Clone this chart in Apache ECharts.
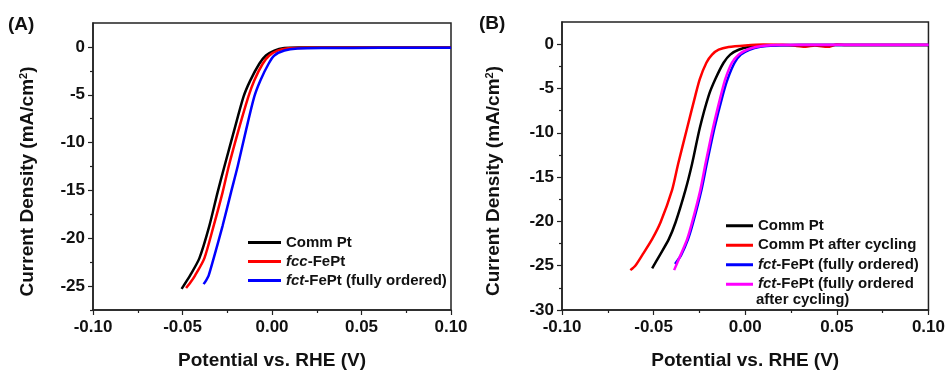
<!DOCTYPE html>
<html>
<head>
<meta charset="utf-8">
<script src="https://cdn.jsdelivr.net/npm/echarts@6/dist/echarts.min.js"></script>
<style>
  html, body { margin: 0; padding: 0; background: #fff; }
  #chart { width: 948px; height: 375px; }
</style>
</head>
<body>
<div id="chart"></div>
<script>
// Panel (A): LSV curves, [potential V, current density mA/cm2]
const commPtA = [[-0.0505,-25.3],[-0.0485,-24.7],[-0.0458,-23.9],[-0.0406,-22.1],[-0.035,-18.7],[-0.0304,-15.2],[-0.0266,-12.5],[-0.0211,-8.7],[-0.0159,-5.2],[-0.0121,-3.5],[-0.0071,-1.76],[-0.0034,-0.9],[0.0013,-0.38],[0.0069,-0.12],[0.015,-0.06],[0.04,-0.05],[0.07,-0.05],[0.1,-0.05]];
const fccA = [[-0.048,-25.2],[-0.0455,-24.6],[-0.043,-23.9],[-0.0378,-22.1],[-0.0326,-18.7],[-0.0276,-15.2],[-0.0242,-12.5],[-0.0187,-8.7],[-0.0132,-5.2],[-0.0099,-3.5],[-0.0052,-1.76],[-0.0015,-0.9],[0.0031,-0.38],[0.009,-0.14],[0.02,-0.08],[0.06,-0.08],[0.1,-0.08]];
const fctA = [[-0.0382,-24.8],[-0.0368,-24.4],[-0.0354,-23.9],[-0.0326,-22.1],[-0.0276,-18.7],[-0.0229,-15.2],[-0.0192,-12.5],[-0.0145,-8.7],[-0.0099,-5.2],[-0.0065,-3.5],[-0.0019,-1.76],[0.0013,-0.9],[0.0069,-0.38],[0.0143,-0.17],[0.03,-0.12],[0.06,-0.1],[0.1,-0.1]];

// Panel (B)
const commPtB = [[-0.0508,-25.3],[-0.0466,-23.8],[-0.0417,-22.0],[-0.038,-20.1],[-0.0326,-16.45],[-0.029,-13.5],[-0.0248,-9.46],[-0.0199,-5.78],[-0.0163,-3.94],[-0.0118,-2.1],[-0.0082,-1.18],[-0.0036,-0.63],[0.0027,-0.3],[0.01,-0.15],[0.03,-0.1],[0.1,-0.1]];
const commPtCycledB = [[-0.0627,-25.5],[-0.06,-25.0],[-0.0562,-23.8],[-0.0508,-22.0],[-0.0462,-20.1],[-0.0399,-16.45],[-0.0366,-13.5],[-0.0317,-9.46],[-0.0272,-5.78],[-0.0248,-3.94],[-0.0212,-2.1],[-0.0181,-1.18],[-0.0145,-0.63],[-0.0091,-0.33],[0.0,-0.15],[0.01,-0.05],[0.02,-0.08],[0.028,-0.2],[0.033,-0.3],[0.038,-0.15],[0.045,-0.3],[0.05,-0.05],[0.055,-0.1],[0.1,-0.1]];
const fctB = [[-0.0383,-24.8],[-0.035,-23.8],[-0.0312,-22.0],[-0.0284,-20.1],[-0.0239,-16.45],[-0.021,-13.5],[-0.0168,-9.46],[-0.0123,-5.78],[-0.0096,-3.94],[-0.0058,-2.1],[-0.0024,-1.18],[0.0023,-0.63],[0.0082,-0.3],[0.016,-0.15],[0.03,-0.1],[0.1,-0.1]];
const fctCycledB = [[-0.0388,-25.5],[-0.0353,-23.8],[-0.0317,-22.0],[-0.029,-20.1],[-0.0245,-16.45],[-0.0217,-13.5],[-0.0176,-9.46],[-0.0133,-5.78],[-0.0109,-3.94],[-0.0073,-2.1],[-0.0036,-1.18],[0.0009,-0.63],[0.0063,-0.3],[0.014,-0.12],[0.03,-0.08],[0.1,-0.08]];

// ticks
const yMajorA = [-25, -20, -15, -10, -5, 0];
const yMinorA = [-27.5, -22.5, -17.5, -12.5, -7.5, -2.5];
const yMajorB = [-30, -25, -20, -15, -10, -5, 0];
const yMinorB = [-27.5, -22.5, -17.5, -12.5, -7.5, -2.5];

const legendA = ["Comm Pt", "fcc-FePt", "fct-FePt (fully ordered)"];
const legendB = ["Comm Pt ", "Comm Pt after cycling", "fct-FePt (fully ordered) ", "fct-FePt (fully ordered after cycling)"];

const FONT = "'Liberation Sans', Arial, sans-serif";
const INK = "#222";

const chart = echarts.init(document.getElementById("chart"));

const legendLabel = (name) => {
    if (name.startsWith("fcc-")) return "{i|fcc}-FePt";
    if (name.startsWith("fct-FePt (fully ordered after")) return "{i|fct}-FePt (fully ordered";
    if (name.startsWith("fct-")) return "{i|fct}-FePt (fully ordered)";
    return name.trim();
};

const makeX = (gridIndex, nameGap) => ({
    type: "value",
    gridIndex,
    min: -0.1,
    max: 0.1,
    interval: 0.05,
    name: "Potential vs. RHE (V)",
    nameLocation: "middle",
    nameGap,
    nameTextStyle: { fontFamily: FONT, fontWeight: "bold", fontSize: 19, color: "#111" },
    axisLine: { show: true, onZero: false, lineStyle: { color: INK, width: 1.5 } },
    axisTick: { show: true, length: 5, lineStyle: { color: INK, width: 1.2 } },
    minorTick: { show: true, splitNumber: 2, length: 3, lineStyle: { color: INK, width: 1.2 } },
    axisLabel: {
        margin: 9,
        fontFamily: FONT,
        fontWeight: "bold",
        fontSize: 17,
        color: "#111",
        formatter: (v) => v.toFixed(2),
    },
    splitLine: { show: false },
});

const makeY = (gridIndex, min, majors, nameGap) => ({
    type: "value",
    gridIndex,
    min,
    max: 2.5,
    position: "left",
    name: "Current Density (mA/cm{sup|2})",
    nameLocation: "middle",
    nameGap,
    nameTextStyle: {
        fontFamily: FONT,
        fontWeight: "bold",
        fontSize: 19,
        color: "#111",
        padding: [0, 30, 0, 0],
        rich: { sup: { fontFamily: FONT, fontWeight: "bold", fontSize: 11, verticalAlign: "top", padding: [0, 0, 8, 0] } },
    },
    axisLine: { show: true, onZero: false, lineStyle: { color: INK, width: 1.5 } },
    axisTick: { show: true, length: 5, customValues: majors, lineStyle: { color: INK, width: 1.2 } },
    axisLabel: {
        margin: 8,
        customValues: majors,
        fontFamily: FONT,
        fontWeight: "bold",
        fontSize: 17,
        color: "#111",
    },
    splitLine: { show: false },
});

const makeMinorY = (gridIndex, min, minors) => ({
    type: "value",
    gridIndex,
    min,
    max: 2.5,
    position: "left",
    offset: 0,
    axisLine: { show: false, onZero: false },
    axisTick: { show: true, length: 3, customValues: minors, lineStyle: { color: INK, width: 1.2 } },
    axisLabel: { show: false },
    splitLine: { show: false },
});

const line = (name, data, color, xAxisIndex, yAxisIndex, z) => ({
    name,
    type: "line",
    data,
    xAxisIndex,
    yAxisIndex,
    z,
    showSymbol: false,
    symbol: "none",
    smooth: 0.25,
    lineStyle: { color, width: 2.5 },
    itemStyle: { color },
    emphasis: { disabled: true },
    animation: false,
});

const legendStyle = {
    fontFamily: FONT,
    fontWeight: "bold",
    fontSize: 15,
    color: "#111",
    rich: { i: { fontFamily: FONT, fontWeight: "bold", fontStyle: "italic", fontSize: 15, color: "#111" } },
};

const option = {
    animation: false,
    backgroundColor: "#fff",
    grid: [
        { left: 93, top: 23, width: 358, height: 289, show: true, borderColor: INK, borderWidth: 1.5, containLabel: false },
        { left: 562, top: 22, width: 368, height: 294, show: true, borderColor: INK, borderWidth: 1.5, containLabel: false },
    ],
    xAxis: [makeX(0, 41), makeX(1, 41)],
    yAxis: [
        makeY(0, -27.5, yMajorA, 56),
        makeMinorY(0, -27.5, yMinorA),
        makeY(1, -30, yMajorB, 59),
        makeMinorY(1, -30, yMinorB),
    ],
    legend: [
        {
            data: legendA,
            left: 243,
            top: 228,
            orient: "vertical",
            icon: "rect",
            itemWidth: 33,
            itemHeight: 3,
            itemGap: 0,
            selectedMode: false,
            formatter: legendLabel,
            textStyle: Object.assign({ lineHeight: 19 }, legendStyle),
        },
        {
            data: legendB,
            left: 721,
            top: 211,
            orient: "vertical",
            icon: "rect",
            itemWidth: 27,
            itemHeight: 3,
            itemGap: 0,
            selectedMode: false,
            formatter: legendLabel,
            textStyle: Object.assign({ lineHeight: 19.5 }, legendStyle),
        },
    ],
    graphic: [
        { type: "text", left: 8, top: 15, style: { text: "(A)", font: "bold 19px " + FONT, fill: "#111" } },
        { type: "text", left: 479, top: 14, style: { text: "(B)", font: "bold 19px " + FONT, fill: "#111" } },
        { type: "text", left: 756, top: 292, style: { text: "after cycling)", font: "bold 15px " + FONT, fill: "#111" } },
    ],
    series: [
        line("Comm Pt", commPtA, "#000000", 0, 0, 2),
        line("fcc-FePt", fccA, "#ff0000", 0, 0, 3),
        line("fct-FePt (fully ordered)", fctA, "#0000ff", 0, 0, 4),
        line("Comm Pt ", commPtB, "#000000", 1, 2, 2),
        line("Comm Pt after cycling", commPtCycledB, "#ff0000", 1, 2, 3),
        line("fct-FePt (fully ordered) ", fctB, "#0000ff", 1, 2, 4),
        line("fct-FePt (fully ordered after cycling)", fctCycledB, "#ff00ff", 1, 2, 5),
    ],
};

chart.setOption(option);
</script>
</body>
</html>
